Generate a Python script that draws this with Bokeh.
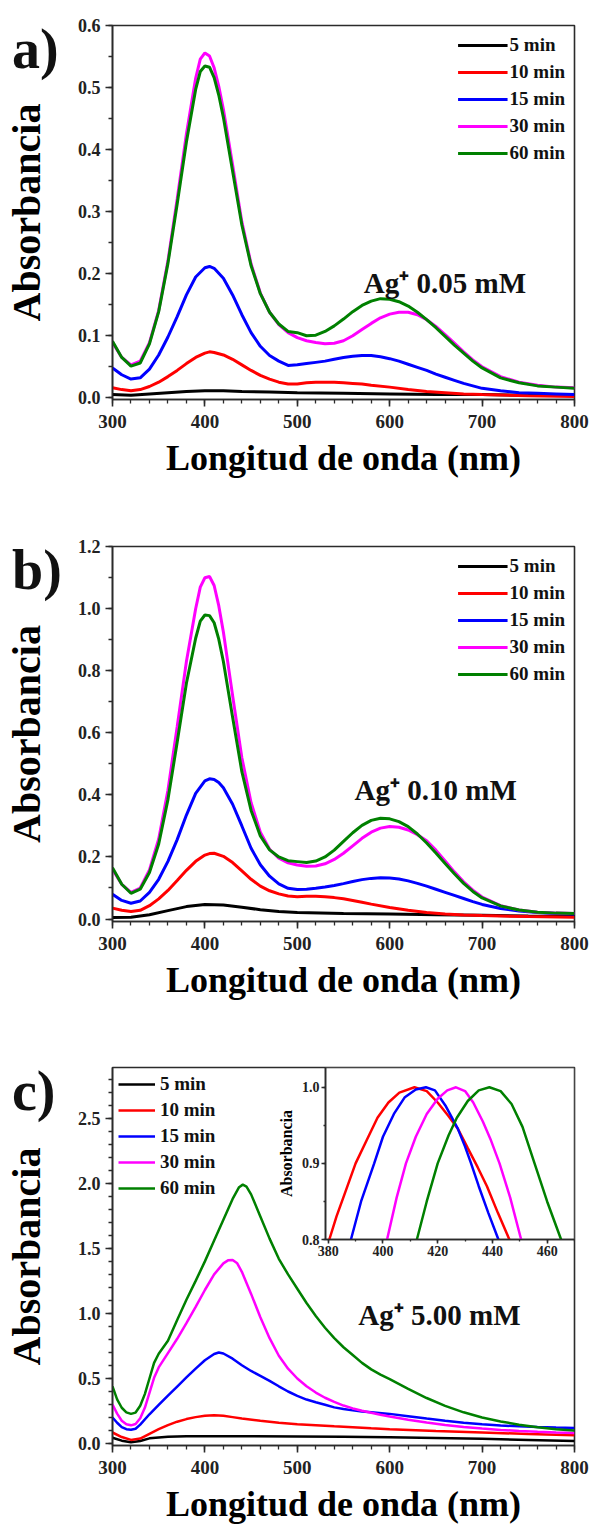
from bokeh.plotting import figure
from bokeh.models import (Range1d, Label, Legend, LegendItem, SingleIntervalTicker,
                          NumeralTickFormatter, LinearAxis, Div)
from bokeh.layouts import column
from bokeh.embed import file_html
from bokeh.resources import INLINE

FONT = "Liberation Serif"
TIMES = ["5 min", "10 min", "15 min", "30 min", "60 min"]
COLORS = ["#000000", "#ff0000", "#0000ff", "#ff00ff", "#008000"]
AXIS_COLOR = "#2b2b2b"

# ---------------- a) Ag+ 0.05 mM ----------------
a_nm_5 = [300, 320, 340, 360, 380, 400, 420, 440, 470, 500, 550, 600, 650, 700, 750, 800]
a_abs_5 = [0.004, 0.003, 0.005, 0.007, 0.009, 0.010, 0.010, 0.009, 0.008, 0.007, 0.006,
           0.005, 0.004, 0.004, 0.003, 0.003]
a_nm_10 = [300, 310, 320, 330, 340, 350, 360, 370, 380, 390, 400, 405, 410, 420, 430, 440,
           450, 460, 470, 480, 490, 500, 510, 520, 530, 540, 550, 560, 570, 580, 600, 620,
           640, 660, 680, 700, 750, 800]
a_abs_10 = [0.015, 0.012, 0.010, 0.012, 0.017, 0.024, 0.033, 0.043, 0.054, 0.064, 0.071,
            0.073, 0.072, 0.068, 0.061, 0.052, 0.043, 0.035, 0.029, 0.024, 0.021, 0.021,
            0.023, 0.024, 0.024, 0.024, 0.023, 0.022, 0.021, 0.019, 0.016, 0.012, 0.009,
            0.007, 0.005, 0.004, 0.002, 0.001]
a_nm_15 = [300, 310, 320, 330, 340, 350, 360, 370, 380, 390, 400, 405, 410, 420, 430, 440,
           450, 460, 470, 480, 490, 500, 510, 520, 530, 540, 550, 560, 570, 580, 590, 600,
           610, 620, 630, 640, 650, 660, 670, 680, 690, 700, 720, 740, 760, 780, 800]
a_abs_15 = [0.047, 0.036, 0.029, 0.031, 0.045, 0.068, 0.097, 0.130, 0.165, 0.194, 0.209,
            0.211, 0.208, 0.192, 0.165, 0.133, 0.104, 0.082, 0.067, 0.058, 0.051, 0.052,
            0.054, 0.056, 0.058, 0.061, 0.064, 0.066, 0.067, 0.067, 0.065, 0.062, 0.058,
            0.053, 0.048, 0.043, 0.037, 0.032, 0.027, 0.022, 0.018, 0.014, 0.010, 0.007,
            0.006, 0.005, 0.004]
a_nm_30 = [300, 310, 320, 330, 340, 350, 360, 370, 380, 390, 395, 400, 405, 410, 415, 420,
           430, 440, 450, 460, 470, 480, 490, 500, 510, 520, 530, 540, 550, 560, 570, 580,
           590, 600, 610, 620, 630, 640, 650, 660, 670, 680, 690, 700, 720, 740, 760, 780, 800]
a_abs_30 = [0.088, 0.064, 0.052, 0.058, 0.088, 0.140, 0.220, 0.320, 0.425, 0.515, 0.546,
            0.556, 0.551, 0.532, 0.502, 0.465, 0.375, 0.283, 0.215, 0.168, 0.137, 0.117,
            0.104, 0.096, 0.091, 0.088, 0.086, 0.087, 0.091, 0.099, 0.109, 0.119, 0.128,
            0.134, 0.137, 0.137, 0.133, 0.125, 0.114, 0.101, 0.087, 0.073, 0.060, 0.049,
            0.033, 0.024, 0.019, 0.016, 0.015]
a_nm_60 = a_nm_30
a_abs_60 = [0.090, 0.064, 0.050, 0.055, 0.086, 0.138, 0.216, 0.312, 0.412, 0.497, 0.526,
            0.535, 0.533, 0.516, 0.488, 0.452, 0.365, 0.278, 0.212, 0.167, 0.137, 0.118,
            0.106, 0.104, 0.099, 0.100, 0.106, 0.115, 0.126, 0.138, 0.148, 0.155, 0.159,
            0.158, 0.154, 0.147, 0.137, 0.125, 0.112, 0.098, 0.084, 0.071, 0.058, 0.047,
            0.031, 0.023, 0.018, 0.016, 0.014]

# ---------------- b) Ag+ 0.10 mM ----------------
b_nm_5 = [300, 320, 340, 360, 380, 400, 420, 440, 460, 480, 500, 550, 600, 650, 700, 750, 800]
b_abs_5 = [0.005, 0.006, 0.014, 0.027, 0.040, 0.047, 0.045, 0.038, 0.030, 0.024, 0.021,
           0.018, 0.016, 0.014, 0.012, 0.010, 0.009]
b_nm_10 = [300, 310, 320, 330, 340, 350, 360, 370, 380, 390, 400, 405, 410, 420, 430, 440,
           450, 460, 470, 480, 490, 500, 510, 520, 530, 540, 550, 560, 570, 580, 600, 620,
           640, 660, 680, 700, 750, 800]
b_abs_10 = [0.035, 0.028, 0.024, 0.028, 0.043, 0.065, 0.092, 0.124, 0.157, 0.186, 0.206,
            0.211, 0.212, 0.202, 0.182, 0.155, 0.128, 0.106, 0.091, 0.081, 0.074, 0.072,
            0.073, 0.073, 0.072, 0.069, 0.065, 0.060, 0.054, 0.048, 0.037, 0.028, 0.021,
            0.016, 0.013, 0.011, 0.008, 0.006]
b_nm_15 = [300, 310, 320, 330, 340, 350, 360, 370, 380, 390, 400, 405, 410, 415, 420, 430,
           440, 450, 460, 470, 480, 490, 500, 510, 520, 530, 540, 550, 560, 570, 580, 590,
           600, 610, 620, 630, 640, 650, 660, 670, 680, 690, 700, 720, 740, 760, 780, 800]
b_abs_15 = [0.080, 0.060, 0.051, 0.058, 0.086, 0.128, 0.186, 0.256, 0.335, 0.405, 0.445,
            0.452, 0.450, 0.440, 0.423, 0.370, 0.300, 0.228, 0.175, 0.138, 0.113, 0.099,
            0.095, 0.096, 0.099, 0.103, 0.108, 0.114, 0.121, 0.127, 0.131, 0.133, 0.132,
            0.129, 0.123, 0.115, 0.106, 0.096, 0.086, 0.076, 0.066, 0.056, 0.047, 0.034,
            0.026, 0.021, 0.018, 0.016]
b_nm_30 = [300, 310, 320, 330, 340, 350, 360, 370, 380, 390, 395, 400, 405, 410, 415, 420,
           430, 440, 450, 460, 470, 480, 490, 500, 510, 520, 530, 540, 550, 560, 570, 580,
           590, 600, 610, 620, 630, 640, 650, 660, 670, 680, 690, 700, 720, 740, 760, 780, 800]
b_abs_30 = [0.160, 0.112, 0.086, 0.100, 0.158, 0.258, 0.415, 0.620, 0.830, 1.000, 1.070,
            1.100, 1.104, 1.075, 1.010, 0.925, 0.720, 0.520, 0.375, 0.280, 0.225, 0.196,
            0.181, 0.174, 0.170, 0.171, 0.178, 0.192, 0.212, 0.236, 0.260, 0.280, 0.293,
            0.298, 0.296, 0.287, 0.272, 0.252, 0.222, 0.187, 0.152, 0.120, 0.093, 0.071,
            0.043, 0.029, 0.022, 0.019, 0.018]
b_nm_60 = b_nm_30
b_abs_60 = [0.165, 0.112, 0.083, 0.096, 0.150, 0.242, 0.385, 0.570, 0.760, 0.905, 0.960,
            0.980, 0.978, 0.955, 0.902, 0.830, 0.650, 0.475, 0.350, 0.268, 0.223, 0.200,
            0.188, 0.185, 0.182, 0.187, 0.200, 0.222, 0.250, 0.278, 0.302, 0.318, 0.325,
            0.323, 0.314, 0.298, 0.274, 0.245, 0.213, 0.179, 0.146, 0.115, 0.089, 0.068,
            0.042, 0.029, 0.022, 0.019, 0.018]

# ---------------- c) Ag+ 5.00 mM ----------------
c_nm_5 = [300, 310, 320, 330, 340, 360, 380, 400, 450, 500, 550, 600, 650, 700, 750, 800]
c_abs_5 = [0.045, 0.022, 0.010, 0.020, 0.040, 0.052, 0.056, 0.057, 0.057, 0.055, 0.052,
           0.048, 0.042, 0.036, 0.028, 0.020]
c_nm_10 = [300, 310, 320, 330, 340, 350, 360, 370, 380, 390, 400, 410, 420, 430, 440, 460,
           480, 500, 520, 540, 560, 580, 600, 650, 700, 750, 800]
c_abs_10 = [0.085, 0.050, 0.028, 0.038, 0.075, 0.110, 0.142, 0.168, 0.188, 0.203, 0.213,
            0.218, 0.213, 0.203, 0.192, 0.175, 0.160, 0.148, 0.140, 0.132, 0.125, 0.117,
            0.110, 0.097, 0.085, 0.073, 0.063]
c_nm_15 = [300, 305, 310, 315, 320, 325, 330, 340, 350, 360, 370, 380, 390, 400, 410, 415,
           420, 430, 440, 450, 460, 470, 480, 490, 500, 510, 520, 530, 540, 550, 560, 570,
           580, 600, 620, 640, 660, 680, 700, 720, 740, 760, 780, 800]
c_abs_15 = [0.200, 0.160, 0.126, 0.110, 0.106, 0.114, 0.145, 0.225, 0.298, 0.368, 0.438,
            0.508, 0.576, 0.640, 0.688, 0.700, 0.692, 0.652, 0.602, 0.558, 0.520, 0.482,
            0.440, 0.400, 0.366, 0.338, 0.317, 0.298, 0.278, 0.265, 0.255, 0.246, 0.240,
            0.228, 0.210, 0.192, 0.175, 0.160, 0.148, 0.139, 0.132, 0.127, 0.123, 0.120]
c_nm_30 = [300, 305, 310, 315, 320, 325, 330, 335, 340, 345, 350, 360, 370, 380, 390, 400,
           410, 420, 425, 430, 435, 440, 450, 460, 470, 480, 490, 500, 510, 520, 530, 540,
           550, 560, 570, 580, 590, 600, 620, 640, 660, 680, 700, 720, 740, 760, 780, 800]
c_abs_30 = [0.300, 0.230, 0.175, 0.148, 0.140, 0.150, 0.195, 0.275, 0.390, 0.505, 0.585,
            0.695, 0.805, 0.925, 1.050, 1.180, 1.300, 1.385, 1.408, 1.410, 1.385, 1.320,
            1.150, 0.970, 0.810, 0.675, 0.575, 0.500, 0.440, 0.392, 0.352, 0.320, 0.292,
            0.270, 0.252, 0.237, 0.222, 0.208, 0.183, 0.161, 0.142, 0.127, 0.115, 0.105,
            0.097, 0.090, 0.085, 0.082]
c_nm_60 = [300, 305, 310, 315, 320, 325, 330, 335, 340, 345, 350, 355, 360, 370, 380, 390,
           400, 410, 420, 430, 437, 441, 445, 450, 460, 470, 480, 490, 500, 510, 520, 530,
           540, 550, 560, 570, 580, 590, 600, 620, 640, 660, 680, 700, 720, 740, 760, 780, 800]
c_abs_60 = [0.440, 0.340, 0.275, 0.240, 0.228, 0.238, 0.290, 0.380, 0.500, 0.620, 0.690,
            0.740, 0.790, 0.950, 1.105, 1.250, 1.400, 1.560, 1.720, 1.880, 1.970, 1.990,
            1.975, 1.915, 1.745, 1.575, 1.420, 1.300, 1.190, 1.080, 0.980, 0.890, 0.810,
            0.740, 0.680, 0.620, 0.570, 0.530, 0.495, 0.420, 0.350, 0.290, 0.240, 0.200,
            0.170, 0.145, 0.125, 0.110, 0.100]

# ---------------- c) inset: normalised band maxima ----------------
i_nm_10 = [380.4, 383, 386, 390, 394, 398, 402, 406, 411.5, 416, 420, 424, 427.3, 431,
           434.6, 438, 442, 446.2]
i_abs_10 = [0.800, 0.830, 0.860, 0.900, 0.930, 0.960, 0.980, 0.993, 1.000, 0.995, 0.980,
            0.962, 0.946, 0.920, 0.895, 0.870, 0.835, 0.800]
i_nm_15 = [388.3, 392, 396.8, 400, 404, 408, 412, 415.7, 419, 423, 427.3, 430, 432.2, 435,
           438.5, 442.2]
i_abs_15 = [0.800, 0.850, 0.900, 0.935, 0.965, 0.987, 0.997, 1.000, 0.996, 0.975, 0.946,
            0.922, 0.900, 0.870, 0.835, 0.800]
i_nm_30 = [401.5, 405, 408.4, 412, 416, 420, 423.5, 426.7, 430, 433, 436.5, 439.5, 442.6,
           446.5, 450.5]
i_abs_30 = [0.800, 0.855, 0.900, 0.935, 0.965, 0.985, 0.996, 1.000, 0.995, 0.980, 0.955,
            0.930, 0.900, 0.855, 0.800]
i_nm_60 = [412.4, 416, 420, 424, 427, 431, 435, 438.9, 443, 447, 451, 455.4, 460, 465.1]
i_abs_60 = [0.800, 0.850, 0.900, 0.937, 0.960, 0.982, 0.996, 1.000, 0.995, 0.978, 0.948,
            0.900, 0.850, 0.800]
INSET_X = (379.0, 470.0)
INSET_Y = (0.8, 1.026)

# frame geometry shared by the three panels (pixels)
FRAME_W = 462
BORDER_LEFT = 112
PANEL_H = 521            # vertical pitch of the stacked panels
LETTER_TOP = 21          # top of the panel letter's line box inside each panel
INSET_LEFT_PX = 213      # inset frame left edge, measured from the panel frame's left edge
INSET_H_PX = 172         # inset frame height, hanging from the panel frame's top edge


def style_axis(ax, tick_size, label_size, tick_out, minor_out, standoff, label_standoff):
    ax.axis_line_color = AXIS_COLOR
    ax.axis_line_width = 1.6
    ax.major_tick_line_color = AXIS_COLOR
    ax.major_tick_line_width = 1.6
    ax.minor_tick_line_color = AXIS_COLOR
    ax.minor_tick_line_width = 1.3
    ax.major_tick_in = 0
    ax.major_tick_out = tick_out
    ax.minor_tick_in = 0
    ax.minor_tick_out = minor_out
    ax.major_label_text_font = FONT
    ax.major_label_text_font_style = "bold"
    ax.major_label_text_font_size = tick_size
    ax.major_label_text_color = "#222222"
    ax.major_label_standoff = standoff
    ax.axis_label_text_font = FONT
    ax.axis_label_text_font_style = "bold"
    ax.axis_label_text_font_size = label_size
    ax.axis_label_text_color = "#000000"
    ax.axis_label_standoff = label_standoff


def panel_letter(letter, index):
    """Bold panel letter pinned to the upper-left corner of panel number `index`."""
    return Div(text=letter,
               styles={"position": "absolute", "left": "12px",
                       "top": f"{LETTER_TOP + index * PANEL_H}px",
                       "font-family": f"'{FONT}', serif", "font-weight": "bold",
                       "font-size": "56px", "line-height": "56px",
                       "color": "#111111", "margin": "0", "padding": "0"})


def make_panel(series, y_range, y_step, y_minor, frame_h, border_bottom,
               conc_text, conc_x, conc_y, legend_loc, legend_margin, legend_padding,
               legend_spacing, glyph_w, label_gap, line_w):
    p = figure(frame_width=FRAME_W, frame_height=frame_h,
               min_border_left=BORDER_LEFT, min_border_right=18, min_border_top=25,
               min_border_bottom=border_bottom,
               x_range=Range1d(300, 800), y_range=Range1d(*y_range),
               output_backend="svg", toolbar_location=None,
               background_fill_color="white", border_fill_color="white")
    p.grid.visible = False
    p.outline_line_color = AXIS_COLOR
    p.outline_line_width = 1.6
    p.outline_line_alpha = 1.0

    renderers = []
    for (nm, ab), color in zip(series, COLORS):
        renderers.append(p.line(nm, ab, line_color=color, line_width=line_w))

    legend = Legend(items=[LegendItem(label=t, renderers=[r])
                           for t, r in zip(TIMES, renderers)],
                    location=legend_loc, margin=legend_margin, padding=legend_padding,
                    spacing=legend_spacing, glyph_width=glyph_w, glyph_height=22,
                    label_height=22, label_standoff=label_gap,
                    label_text_font=FONT, label_text_font_style="bold",
                    label_text_font_size="19px", label_text_color="#111111",
                    background_fill_alpha=0, border_line_alpha=0)
    p.add_layout(legend)

    xa = p.xaxis[0]
    xa.ticker = SingleIntervalTicker(interval=100, num_minor_ticks=5)
    xa.axis_label = "Longitud de onda (nm)"
    style_axis(xa, "19px", "36px", 7, 4, 8, 7)

    ya = p.yaxis[0]
    ya.ticker = SingleIntervalTicker(interval=y_step, num_minor_ticks=y_minor)
    ya.formatter = NumeralTickFormatter(format="0.0")
    ya.axis_label = "Absorbancia"
    style_axis(ya, "18px", "40px", 7, 4, 5, 26)

    p.add_layout(Label(x=conc_x, y=conc_y, text=conc_text, text_font=FONT,
                       text_font_style="bold", text_font_size="29px",
                       text_color="#111111", text_baseline="alphabetic"))
    return p


pa = make_panel([(a_nm_5, a_abs_5), (a_nm_10, a_abs_10), (a_nm_15, a_abs_15),
                 (a_nm_30, a_abs_30), (a_nm_60, a_abs_60)],
                (-0.004, 0.6004), 0.1, 2, 374, 122,
                "Ag\u207a 0.05 mM", 572, 0.185,
                "top_right", 4, 5, 5, 50, 2, 3)
pb = make_panel([(b_nm_5, b_abs_5), (b_nm_10, b_abs_10), (b_nm_15, b_abs_15),
                 (b_nm_30, b_abs_30), (b_nm_60, b_abs_60)],
                (-0.008, 1.2008), 0.2, 2, 375, 121,
                "Ag\u207a 0.10 mM", 562, 0.415,
                "top_right", 4, 5, 5, 50, 2, 3)
pc = make_panel([(c_nm_5, c_abs_5), (c_nm_10, c_abs_10), (c_nm_15, c_abs_15),
                 (c_nm_30, c_abs_30), (c_nm_60, c_abs_60)],
                (-0.015, 2.89), 0.5, 5, 378, 84,
                "Ag\u207a 5.00 mM", 566, 0.99,
                "top_left", 3, 3, 4, 37, 5, 2.5)

# ---- inset of panel c: its own ranges, laid over the top-right corner of the frame ----
ix0, ix1 = INSET_X
iy0, iy1 = INSET_Y
x_per_px = (ix1 - ix0) / (FRAME_W - INSET_LEFT_PX)
y_per_px = (iy1 - iy0) / INSET_H_PX
pc.extra_x_ranges = {"ix": Range1d(ix0 - INSET_LEFT_PX * x_per_px, ix1)}
pc.extra_y_ranges = {"iy": Range1d(iy1 - 378 * y_per_px, iy1)}

pc.quad(left=[ix0], right=[ix1], bottom=[iy0], top=[iy1],
        x_range_name="ix", y_range_name="iy",
        fill_color="white", line_color=AXIS_COLOR, line_width=1.5)
for (nm, ab), color in zip([(i_nm_10, i_abs_10), (i_nm_15, i_abs_15),
                            (i_nm_30, i_abs_30), (i_nm_60, i_abs_60)], COLORS[1:]):
    pc.line(nm, ab, line_color=color, line_width=2.5,
            x_range_name="ix", y_range_name="iy")

inset_x_axis = LinearAxis(x_range_name="ix", y_range_name="iy", fixed_location=iy0,
                          bounds=(ix0, ix1),
                          ticker=SingleIntervalTicker(interval=20, num_minor_ticks=2))
style_axis(inset_x_axis, "14px", "16px", 4, 2, 2, 4)
pc.add_layout(inset_x_axis, "below")

inset_y_axis = LinearAxis(x_range_name="ix", y_range_name="iy", fixed_location=ix0,
                          bounds=(iy0, iy1), axis_label="Absorbancia",
                          ticker=SingleIntervalTicker(interval=0.1, num_minor_ticks=2),
                          formatter=NumeralTickFormatter(format="0.0"))
style_axis(inset_y_axis, "14px", "16px", 4, 2, 2, 4)
pc.add_layout(inset_y_axis, "left")

layout = column(pa, pb, pc, panel_letter("a)", 0), panel_letter("b)", 1),
                panel_letter("c)", 2), spacing=0)

with open("out.html", "w") as f:
    f.write(file_html(layout, INLINE))
